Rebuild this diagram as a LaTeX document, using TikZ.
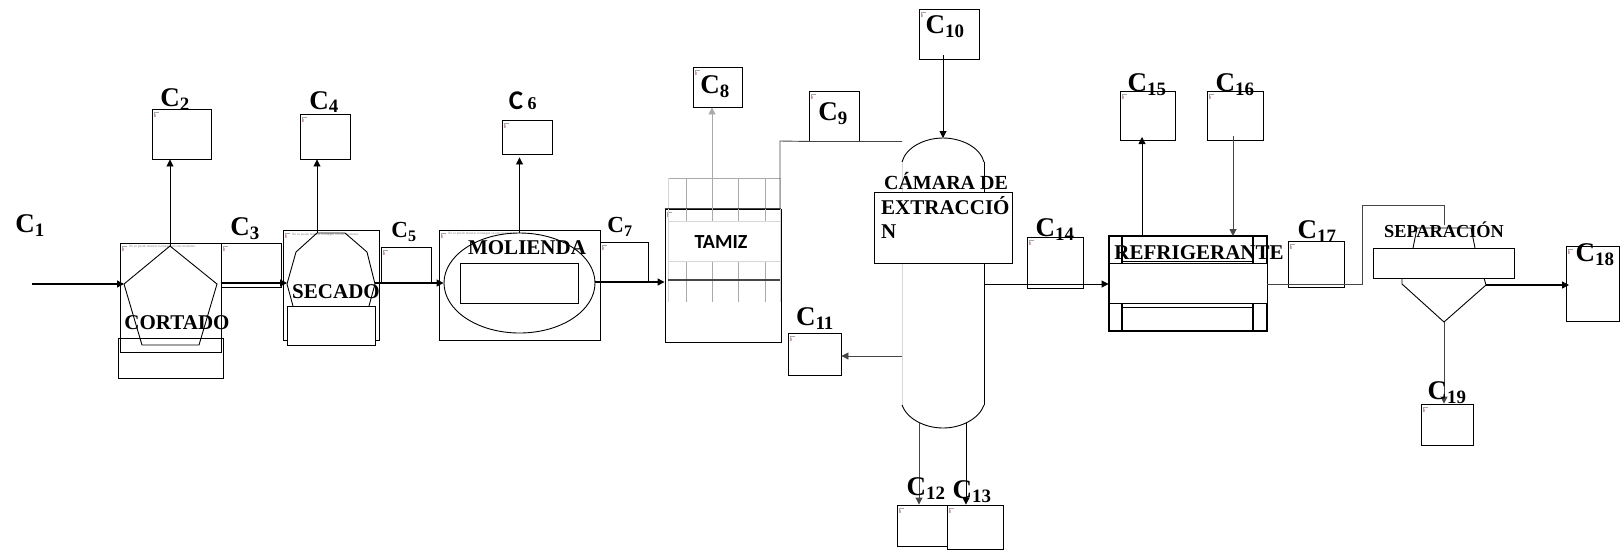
\documentclass[tikz,border=0pt]{standalone}
\usepackage{fontspec}
\setmainfont{Liberation Serif}
\newfontfamily\tamizfont{Carlito}
\usepackage{xcolor}
\usetikzlibrary{shapes.geometric, arrows.meta, positioning}
\definecolor{linegray}{RGB}{70, 70, 70}
\definecolor{gridgray}{RGB}{170, 170, 170}
\definecolor{lightgray}{RGB}{215, 215, 215}
\definecolor{iconpink}{RGB}{235, 170, 180}

\begin{document}
\begin{tikzpicture}[
	x=1pt, y=-1pt,
	>={Triangle[length=7pt,width=7pt]},
	box/.style={rectangle, draw=black, inner sep=0pt, line width=0.9pt},
	whitebox/.style={box, fill=white},
	imgbox/.style={box, fill=white, path picture={
		\draw[gray!70, line width=0.7pt] ([xshift=2pt,yshift=-8pt]path picture bounding box.north west) |- ++(5pt,5pt);
		\draw[iconpink, line width=0.7pt] ([xshift=3pt,yshift=-8pt]path picture bounding box.north west) -- ++(0,3pt);
	}},
	flow/.style={->, line width=0.9pt, draw=black},
	clabel/.style={inner sep=0pt, font=\fontsize{27}{27}\selectfont\bfseries},
	stage/.style={inner sep=0pt, font=\fontsize{21}{21}\selectfont\bfseries},
	tinynote/.style={inner sep=0pt, anchor=west, text=gray, font=\fontsize{3.4}{4}\selectfont}
	]
	\useasboundingbox (0,0) rectangle (1621,550);

	% Equipment frames
	\node[imgbox, minimum width=101pt, minimum height=109pt] (cortadoimg) at (170.5,297.5) {};
	\node[tinynote] (cortadonote) at (129,246.5) {No se puede mostrar la imagen en este momento.};
	\node[imgbox, minimum width=96pt, minimum height=110pt] (secadoimg) at (331,285) {};
	\node[tinynote] (secadonote) at (292,234.5) {No se puede mostrar la imagen en este momento.};
	\node[imgbox, minimum width=161pt, minimum height=110pt] (moliendaimg) at (519.5,285) {};
	\node[tinynote] (moliendanote) at (448,234) {No se puede mostrar la imagen en este momento.};
	\node[imgbox, minimum width=116pt, minimum height=133pt] (tamizimg) at (723,275.5) {};

	% Stream boxes
	\node[imgbox, minimum width=59pt, minimum height=50pt] (c2) at (181.5,134) {};
	\node[imgbox, minimum width=60pt, minimum height=44pt] (c3) at (251,265) {};
	\node[imgbox, minimum width=50pt, minimum height=45pt] (c4) at (325,136.5) {};
	\node[imgbox, minimum width=50pt, minimum height=35pt] (c5) at (406,264.5) {};
	\node[imgbox, minimum width=50pt, minimum height=34pt] (c6) at (527,137) {};
	\node[imgbox, minimum width=48pt, minimum height=40pt] (c7) at (624,262) {};
	\node[imgbox, minimum width=49pt, minimum height=40pt] (c8) at (717.5,87) {};
	\node[imgbox, minimum width=50pt, minimum height=50pt] (c9) at (834,116) {};
	\node[imgbox, minimum width=60pt, minimum height=50pt] (c10) at (949,34) {};
	\node[imgbox, minimum width=53pt, minimum height=42pt] (c11) at (814.5,354) {};
	\node[imgbox, minimum width=53pt, minimum height=41pt] (c12) at (923.5,525.5) {};
	\node[imgbox, minimum width=56pt, minimum height=44pt] (c13) at (975,527) {};
	\node[imgbox, minimum width=56pt, minimum height=51pt] (c14) at (1055,262.5) {};
	\node[imgbox, minimum width=55pt, minimum height=49pt] (c15) at (1147.5,115.5) {};
	\node[imgbox, minimum width=56pt, minimum height=49pt] (c16) at (1235,115.5) {};
	\node[imgbox, minimum width=56pt, minimum height=46pt] (c17) at (1316,264) {};
	\node[imgbox, minimum width=53pt, minimum height=75pt] (c18) at (1592.5,283.5) {};
	\node[imgbox, minimum width=52pt, minimum height=41pt] (c19) at (1447,424.5) {};

	% Cortado
	\coordinate (cortadotop) at (170,246);
	\coordinate (cortadoleft) at (124,284);
	\coordinate (cortadoright) at (217,284);
	\draw[line width=0.9pt] (cortadotop) -- (cortadoright) -- (199,345) -- (142,345) -- (cortadoleft) -- cycle;
	\node[box, minimum width=105pt, minimum height=40pt] (cortadobox) at (170.5,358) {};

	% Secado
	\coordinate (secadotop) at (317,233);
	\coordinate (secadoleft) at (287,284);
	\coordinate (secadoright) at (375,284);
	\draw[line width=0.9pt] (293,306) -- (secadoleft) -- (296,252) -- (secadotop) -- (345,233) -- (367,252) -- (secadoright) -- (369,306);
	\node[whitebox, minimum width=88pt, minimum height=39pt] (secadobox) at (331,325.5) {};

	% Molienda
	\node[ellipse, draw=black, line width=0.9pt, inner sep=0pt, minimum width=151pt, minimum height=100pt] (moliendaeli) at (519.5,283) {};
	\node[box, minimum width=118pt, minimum height=40pt] (moliendabox) at (519,283) {};

	% Tamiz
	\draw[gridgray, line width=0.9pt] (668,178) -- (780,178) (686,178) -- (686,302) (712,178) -- (712,302) (738,178) -- (738,302) (765,178) -- (765,302);
	\draw[lightgray, line width=0.9pt] (668,178) -- (668,302) (780,178) -- (780,302);
	\node[rectangle, fill=white, draw=lightgray, line width=0.8pt, minimum width=112pt, minimum height=40pt] (tamizbox) at (724,241) {};
	\draw[linegray, line width=1.1pt] (tamizimg.north west) -- (tamizimg.north east) (668,280) -- (780,280);

	% Extraction chamber
	\coordinate (domeleft) at (902,162);
	\coordinate (domeright) at (984,162);
	\coordinate (dometop) at (943,138);
	\coordinate (domebottom) at (943,428);
	\draw[lightgray, line width=0.9pt] (domeleft) -- (902,405);
	\draw[line width=0.9pt] (domeright) -- (984,405);
	\draw[line width=0.9pt] (domeleft) .. controls (906,147) and (925,138) .. (dometop) .. controls (961,138) and (980,147) .. (domeright);
	\draw[line width=0.9pt] (902,405) .. controls (907,419) and (925,428) .. (domebottom) .. controls (961,428) and (979,419) .. (984,405);
	\node[whitebox, minimum width=138pt, minimum height=71pt] (camarabox) at (943,227.5) {};

	% Refrigerante
	\node[box, minimum width=158pt, minimum height=95pt, line width=1.1pt] (refrigimg) at (1188,283.5) {};
	\draw[line width=1.1pt] (1122,236) -- (1122,331) (1253,236) -- (1253,331);
	\draw[line width=0.9pt] (1122,261) -- (1253,261) (1122,307) -- (1253,307);
	\node[whitebox, minimum width=158pt, minimum height=40pt] (refrigbox) at (1188,283.5) {};

	% Separacion
	\coordinate (sepbottom) at (1444,322);
	\coordinate (sepright) at (1486,285);
	\draw[line width=0.9pt] (1413,248) -- (1417,228) -- (1471,228) -- (1475,248);
	\draw[line width=0.9pt] (1402,278) -- (1402,284) -- (sepbottom) -- (sepright) -- (1484,278);
	\node[whitebox, minimum width=141pt, minimum height=30pt] (sepbox) at (1443.5,263) {};

	% Streams
	\coordinate (feed) at (32,284);
	\coordinate (levela) at (0,283);
	\coordinate (levelb) at (0,282);
	\coordinate (levelc) at (0,284);
	\coordinate (levelel) at (0,356);
	\coordinate (tamizout) at (712,210);
	\coordinate (c9corner) at (780,141);
	\coordinate (tamizcorner) at (780,209);
	\coordinate (c12out) at (919,423);
	\coordinate (c13out) at (966,423);
	\coordinate (c11out) at (902,356);
	\coordinate (c15out) at (1142,236);
	\coordinate (c15in) at (1142,137);
	\coordinate (c16out) at (1233,136);
	\coordinate (c16in) at (1233,236);
	\coordinate (sepa) at (1362,284);
	\coordinate (sepb) at (1362,205);
	\coordinate (sepc) at (1444,205);
	\coordinate (sepd) at (1444,225);
	\coordinate (c18in) at (1569,285);
	\draw[flow, line width=1.1pt] (feed) -- (cortadoleft);
	\draw[flow] (cortadotop) -- (cortadotop |- c2.south);
	\draw[flow, line width=1.2pt] (c3.west |- levela) -- (secadoleft |- levela);
	\draw[flow] (secadotop) -- (secadotop |- c4.south);
	\draw[flow, line width=1.1pt] (secadoright |- levela) -- (moliendaeli.west |- levela);
	\draw[flow] (moliendaeli.north) -- ([yshift=-3pt]moliendaeli.north |- c6.south);
	\draw[flow, line width=1.3pt] (moliendaeli.east |- levelb) -- (tamizimg.west |- levelb);
	\draw[flow, draw=gridgray] (tamizout) -- (tamizout |- c8.south);
	\draw[linegray, line width=0.9pt] (tamizcorner) -- (c9corner) -- (c9.south west) -- (c9.south east) -- (domeleft |- c9.south);
	\draw[flow] ([yshift=4pt]dometop |- c10.south) -- (dometop);
	\draw[flow, draw=linegray] (c11out) -- (c11.east |- c11out);
	\draw[flow, draw=linegray] (c12out) -- (c12out |- c12.north);
	\draw[flow] (c13out) -- (c13out |- c13.north);
	\draw[flow] (domeright |- levelc) -- (refrigbox.west |- levelc);
	\draw[flow] (c15out) -- (c15in);
	\draw[flow, draw=linegray] (c16out) -- (c16in);
	\draw[linegray, line width=0.9pt] (refrigbox.east |- levelc) -- (sepa) -- (sepb) -- (sepc) -- (sepd);
	\draw[flow, line width=1.3pt] (sepright) -- (c18in);
	\draw[flow, draw=linegray] (sepbottom) -- (sepbottom |- c19.north);

	% Stage names
	\node[stage] (cortadotxt) at (177,323) {CORTADO};
	\node[stage] (secadotxt) at (336,292) {SECADO};
	\node[stage] (moliendatxt) at (527,248) {MOLIENDA};
	\node[inner sep=0pt, font=\tamizfont\fontsize{20}{20}\selectfont\bfseries] (tamiztxt) at (721,242) {TAMIZ};
	\node[stage, font=\fontsize{20}{20}\selectfont\bfseries] (camaratxt) at (946,181) {CÁMARA DE};
	\node[stage, anchor=west] (extractxt) at (881,206) {EXTRACCIÓ};
	\node[stage, anchor=west] (ntxt) at (881,232) {N};
	\node[stage] (refrigtxt) at (1199,253) {REFRIGERANTE};
	\node[stage, font=\fontsize{18.3}{18.3}\selectfont\bfseries] (septxt) at (1444,230) {SEPARACIÓN};

	% Stream names
	\node[clabel] (l1) at (30,226) {C\textsubscript{1}};
	\node[clabel] (l2) at (175,100) {C\textsubscript{2}};
	\node[clabel] (l3) at (245,229) {C\textsubscript{3}};
	\node[clabel] (l4) at (324,102) {C\textsubscript{4}};
	\node[clabel, font=\fontsize{23}{23}\selectfont\bfseries] (l5) at (404,232) {C\textsubscript{5}};
	\node[inner sep=0pt, font=\tamizfont\fontsize{27}{27}\selectfont\bfseries] (l6) at (516,101) {C};
	\node[inner sep=0pt, font=\fontsize{18}{18}\selectfont\bfseries, right=4pt of l6.south east, anchor=south west] (l6b) {6};
	\node[clabel, font=\fontsize{23}{23}\selectfont\bfseries] (l7) at (620,227) {C\textsubscript{7}};
	\node[clabel] (l8) at (715,87) {C\textsubscript{8}};
	\node[clabel] (l9) at (833,114) {C\textsubscript{9}};
	\node[clabel] (l10) at (945,27) {C\textsubscript{10}};
	\node[clabel] (l11) at (815,319) {C\textsubscript{11}};
	\node[clabel] (l12) at (926,489) {C\textsubscript{12}};
	\node[clabel] (l13) at (972,492) {C\textsubscript{13}};
	\node[clabel] (l14) at (1055,230) {C\textsubscript{14}};
	\node[clabel] (l15) at (1147,85) {C\textsubscript{15}};
	\node[clabel] (l16) at (1235,85) {C\textsubscript{16}};
	\node[clabel] (l17) at (1317,232) {C\textsubscript{17}};
	\node[clabel] (l18) at (1595,255) {C\textsubscript{18}};
	\node[clabel] (l19) at (1447,393) {C\textsubscript{19}};
\end{tikzpicture}
\end{document}
